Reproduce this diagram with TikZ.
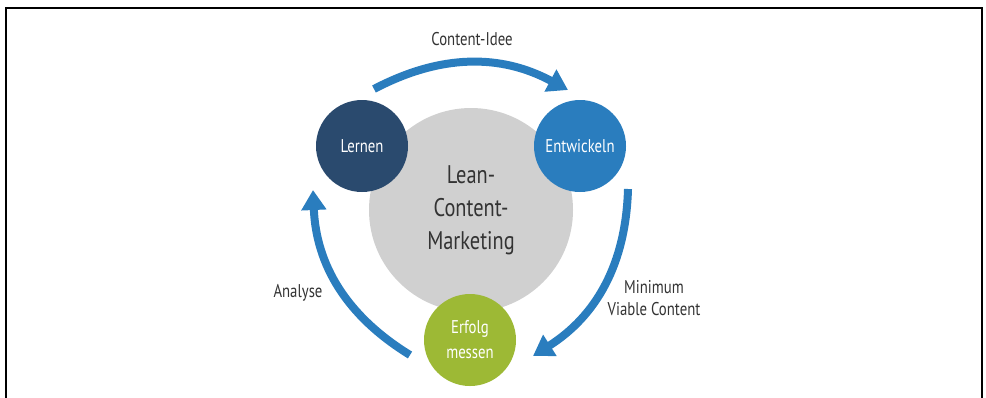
\documentclass[tikz,border=0pt]{standalone}
\usepackage{fontspec}
\setmainfont{PT Sans}[FakeStretch=0.8]
\usepackage{tikz}
\usetikzlibrary{arrows.meta}

\definecolor{navy}{HTML}{2A4A6E}
\definecolor{lcblue}{HTML}{2A7DBE}
\definecolor{lcgreen}{HTML}{9DB935}
\definecolor{lcgray}{HTML}{D0D0D0}
\definecolor{ink}{HTML}{333333}

\begin{document}
\begin{tikzpicture}[x=0.2mm, y=-0.2mm,
  stage/.style={circle, minimum size=1.84cm, inner sep=0pt, text=white,
    align=center, font=\fontsize{10.5}{14.2}\selectfont},
  flowtext/.style={text=ink, align=center, font=\fontsize{10.5}{13}\selectfont},
  flow/.style={lcblue, line width=1.6mm, -{Triangle[length=4mm, width=4.8mm]}}]
  \useasboundingbox (0,0) rectangle (986,397);
  % frame, open at the bottom
  \draw[line width=0.8pt] (6,400) -- (6,8) -- (982,8) -- (982,400);
  % hub
  \node[circle, fill=lcgray, minimum size=4.08cm, inner sep=0pt, text=ink,
    align=center, font=\fontsize{14.5}{18.8}\selectfont] (hub) at (471,210)
    {Lean-\\Content-\\Marketing};
  % the three stages
  \node[stage, fill=navy] (lernen) at (362,146) {Lernen};
  \node[stage, fill=lcblue] (entw) at (580,146) {Entwickeln};
  \node[stage, fill=lcgreen] (erfolg) at (470,340) {Erfolg\\messen};
  % arc ends
  \coordinate (ideeA) at (374,89);  \coordinate (ideeB) at (568,90);
  \coordinate (mvcA) at (628,189);  \coordinate (mvcB) at (533,356);
  \coordinate (anaA) at (410,355);  \coordinate (anaB) at (313,190);
  \foreach \a/\b in {ideeA/ideeB, mvcA/mvcB, anaA/anaB}
    \draw[flow] (\a) to[bend left=28] (\b);
  % arc labels
  \node[flowtext] (idee) at (472,39) {Content-Idee};
  \node[flowtext] (mvc) at (654,298) {Minimum\\Viable Content};
  \node[flowtext] (ana) at (298,293) {Analyse};
\end{tikzpicture}
\end{document}
